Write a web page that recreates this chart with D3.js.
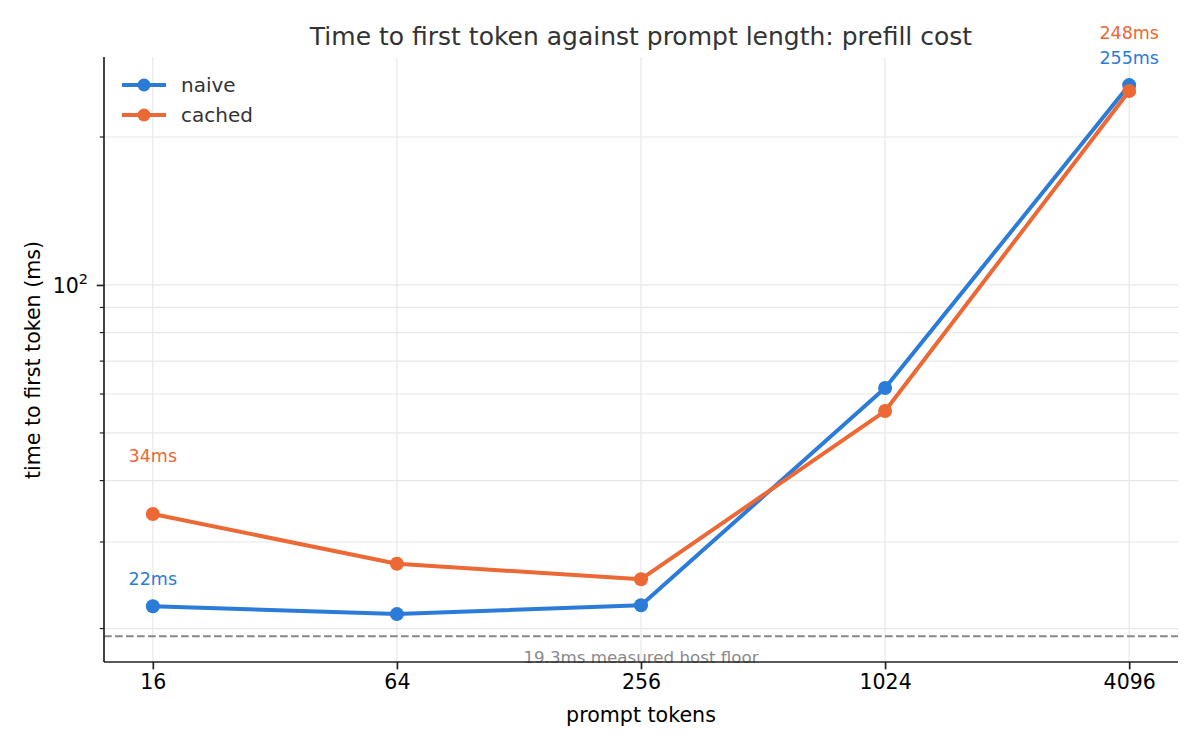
<!DOCTYPE html>
<html>
<head>
<meta charset="utf-8">
<script src="https://cdn.jsdelivr.net/npm/d3@7"></script>
<style>
  body { margin: 0; background: #fff; }
  svg { font-family: "DejaVu Sans", sans-serif; }
</style>
</head>
<body>
<svg id="chart" width="1200" height="750"></svg>
<script>
const tokens = [16, 64, 256, 1024, 4096];
const naive = [22.2, 21.4, 22.3, 61.7, 255];
const cached = [34.2, 27.1, 25.2, 55.4, 248];
const floorMs = 19.3;
const yMajor = [100];
const yMinor = [20, 30, 40, 50, 60, 70, 80, 90, 200];

const series = [
  { name: "naive", values: naive, color: "#2b7bd8", labelDy: -27 },
  { name: "cached", values: cached, color: "#ec6835", labelDy: -58 }
];

const margin = { left: 104, right: 1178, top: 57, bottom: 662 };
const svg = d3.select("#chart");

const x = d3.scaleLog().base(2)
  .domain([16 * Math.pow(2, -0.4), 4096 * Math.pow(2, 0.4)])
  .range([margin.left, margin.right]);
const y = d3.scaleLog()
  .domain([17.1, 290.9])
  .range([margin.bottom, margin.top]);

// grid
const grid = svg.append("g").attr("stroke", "#e8e8e8").attr("stroke-width", 1.2);
grid.selectAll(".gx").data(tokens).join("line")
  .attr("x1", d => x(d)).attr("x2", d => x(d))
  .attr("y1", margin.top).attr("y2", margin.bottom);
grid.selectAll(".gy").data(yMajor.concat(yMinor)).join("line")
  .attr("x1", margin.left).attr("x2", margin.right)
  .attr("y1", d => y(d)).attr("y2", d => y(d));

// host floor
svg.append("line")
  .attr("x1", margin.left).attr("x2", margin.right)
  .attr("y1", y(floorMs)).attr("y2", y(floorMs))
  .attr("stroke", "#888").attr("stroke-width", 2)
  .attr("stroke-dasharray", "7.7,3.3");
svg.append("text")
  .attr("x", (margin.left + margin.right) / 2).attr("y", 663)
  .attr("text-anchor", "middle").attr("font-size", 16.7).attr("fill", "#8a8a8a")
  .text(`${floorMs}ms measured host floor`);

// lines
const line = d3.line().x((d, i) => x(tokens[i])).y(d => y(d));
series.forEach(s => {
  svg.append("path").datum(s.values)
    .attr("d", line).attr("fill", "none")
    .attr("stroke", s.color).attr("stroke-width", 4)
    .attr("stroke-linejoin", "round");
  svg.selectAll(null).data(s.values).join("circle")
    .attr("cx", (d, i) => x(tokens[i])).attr("cy", d => y(d))
    .attr("r", 7).attr("fill", s.color);
  const ends = [0, s.values.length - 1];
  svg.selectAll(null).data(ends).join("text")
    .attr("x", i => x(tokens[i])).attr("y", i => y(s.values[i]) + s.labelDy + 6)
    .attr("text-anchor", "middle").attr("font-size", 17.5).attr("fill", s.color)
    .text(i => `${Math.round(s.values[i])}ms`);
});

// axes
const xAxis = d3.axisBottom(x).tickValues(tokens).tickFormat(d3.format("d"))
  .tickSize(7.3).tickPadding(5);
const gx = svg.append("g").attr("transform", `translate(0,${margin.bottom})`).call(xAxis);
gx.select(".domain").attr("d", `M${margin.left},0H${margin.right}`);

const yAxis = d3.axisLeft(y).tickValues(yMajor).tickFormat("").tickSize(7.3);
const gy = svg.append("g").attr("transform", `translate(${margin.left},0)`).call(yAxis);
gy.select(".domain").attr("d", `M0,${margin.top}V${margin.bottom}`);
gy.selectAll(null).data(yMinor).join("line")
  .attr("x1", -4.2).attr("x2", 0).attr("y1", d => y(d)).attr("y2", d => y(d))
  .attr("stroke", "#222").attr("stroke-width", 1.2);

[gx, gy].forEach(g => {
  g.select(".domain").attr("stroke", "#222").attr("stroke-width", 1.7);
  g.selectAll(".tick line").attr("stroke", "#222").attr("stroke-width", 1.7);
  g.selectAll(".tick text").attr("font-size", 20.5).attr("fill", "#000")
    .attr("font-family", "DejaVu Sans");
});

// 10^2 label
const lab = svg.append("text").attr("x", 88).attr("y", y(100) + 8)
  .attr("text-anchor", "end").attr("font-size", 20.5).attr("fill", "#000");
lab.append("tspan").text("10");
lab.append("tspan").attr("font-size", 14.5).attr("dy", -9).text("2");

// labels
svg.append("text").attr("x", 641).attr("y", 45).attr("text-anchor", "middle")
  .attr("font-size", 25).attr("fill", "#333")
  .text("Time to first token against prompt length: prefill cost");
svg.append("text").attr("x", 641).attr("y", 722).attr("text-anchor", "middle")
  .attr("font-size", 20.6).attr("fill", "#000").text("prompt tokens");
svg.append("text").attr("transform", "translate(40,360) rotate(-90)")
  .attr("text-anchor", "middle").attr("font-size", 20.6).attr("fill", "#000")
  .text("time to first token (ms)");

// legend
const legend = svg.append("g");
series.forEach((s, i) => {
  const ly = 85 + i * 30;
  legend.append("line").attr("x1", 122).attr("x2", 166).attr("y1", ly).attr("y2", ly)
    .attr("stroke", s.color).attr("stroke-width", 4);
  legend.append("circle").attr("cx", 144).attr("cy", ly).attr("r", 6.5).attr("fill", s.color);
  legend.append("text").attr("x", 181).attr("y", ly + 7)
    .attr("font-size", 20).attr("fill", "#333").text(s.name);
});
</script>
</body>
</html>
